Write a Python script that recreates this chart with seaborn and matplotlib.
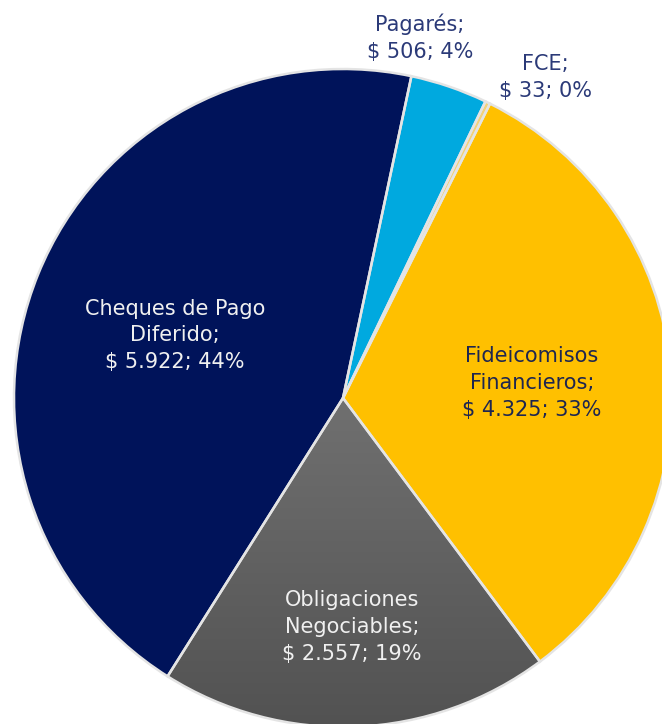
import numpy as np
import matplotlib.pyplot as plt
import matplotlib.colors as mcolors
import seaborn as sns

# datos (millones de $)
categorias = ["Pagarés", "FCE", "Fideicomisos\nFinancieros", "Obligaciones\nNegociables", "Cheques de Pago\nDiferido"]
montos = [506, 33, 4325, 2557, 5922]
porcentajes = [4, 0, 33, 19, 44]
colores = ["#00A9DF", "#F3D27A", "#FFC000", "#606060", "#00135A"]

sns.set_theme(style="white")
plt.rcParams['font.family'] = ['DejaVu Sans']

fig = plt.figure(figsize=(6.62, 7.24), dpi=100)
R = 329
ax = fig.add_axes([14 / 662, -3 / 724, 2 * R / 662, 2 * R / 724])
ax.set_xlim(-1, 1)
ax.set_ylim(-1, 1)
ax.set_aspect('equal')
ax.axis('off')

wedges, _ = ax.pie(montos, colors=colores, startangle=78, counterclock=False,
                   radius=1, wedgeprops=dict(linewidth=0))

# degradado gris en Obligaciones Negociables
grad = np.linspace(0, 1, 256).reshape(-1, 1)
cmap_gris = mcolors.LinearSegmentedColormap.from_list("gris", ["#525252", "#707070"])
img = ax.imshow(grad, cmap=cmap_gris, extent=[-1, 1, -1, 0], origin='lower',
                aspect='auto', zorder=wedges[3].get_zorder() + 0.1)
img.set_clip_path(wedges[3])

# bordes encima del degradado
bordes, _ = ax.pie(montos, startangle=78, counterclock=False, radius=1,
                   wedgeprops=dict(facecolor='none', edgecolor='#E4E4E4', linewidth=1.8, zorder=5))
ax.set_xlim(-1, 1)
ax.set_ylim(-1, 1)

# etiquetas
posiciones = [(0.234, 1.095), (0.614, 0.974), (0.574, 0.046), (0.027, -0.696), (-0.51, 0.19)]
col_texto = ["#2B3A78", "#2B3A78", "#1E2650", "#F0F0F0", "#F0F0F0"]
for cat, m, p, pos, c in zip(categorias, montos, porcentajes, posiciones, col_texto):
    monto_txt = f"{m:,}".replace(",", ".")
    ax.text(pos[0], pos[1], f"{cat};\n$ {monto_txt}; {p}%", ha='center', va='center',
            fontsize=15, color=c, linespacing=1.42, zorder=10, clip_on=False)

fig.savefig("out.png", dpi=100)
